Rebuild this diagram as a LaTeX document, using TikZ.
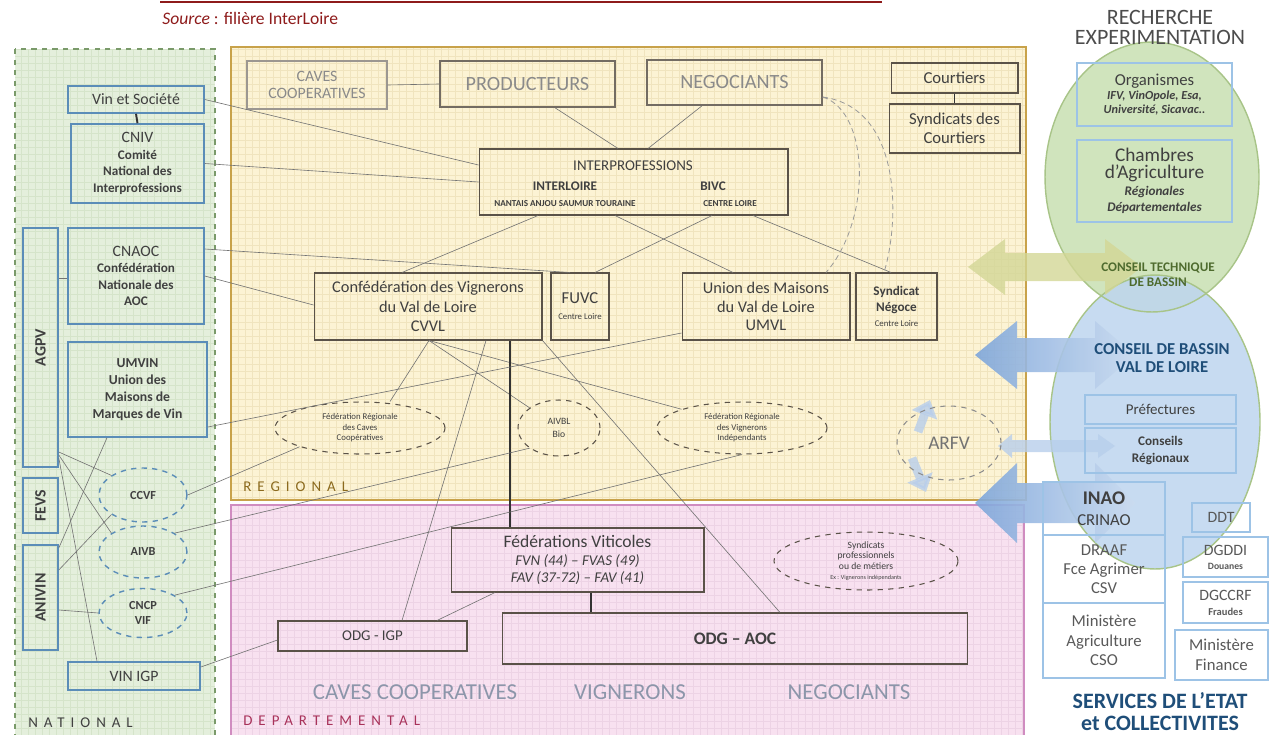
\documentclass[tikz,border=0pt]{standalone}
\usepackage{fontspec}
\setmainfont{Carlito}
\usetikzlibrary{shapes.geometric,arrows.meta}
\definecolor{natFill}{HTML}{E4EFDC}
\definecolor{natGrid}{HTML}{D5E4CA}
\definecolor{natEdge}{HTML}{7A9A6A}
\definecolor{natLine}{HTML}{5B8DB8}
\definecolor{regFill}{HTML}{FCF3D4}
\definecolor{regGrid}{HTML}{F0E4BE}
\definecolor{regLine}{HTML}{C8A24A}
\definecolor{depFill}{HTML}{F8E1F0}
\definecolor{depGrid}{HTML}{EDD3E5}
\definecolor{depLine}{HTML}{D08CC0}
\definecolor{boxDark}{HTML}{5A5248}
\definecolor{txtDark}{HTML}{404040}
\definecolor{txtGrey}{HTML}{8A8A8A}
\definecolor{depTxt}{HTML}{8C96AA}
\definecolor{greenEll}{HTML}{C8DFB2}
\definecolor{blueEll}{HTML}{BDD5EE}
\definecolor{ellLine}{HTML}{A8C488}
\definecolor{arrowBlue}{HTML}{7EA6DA}
\definecolor{arrowOlive}{HTML}{D3D796}
\definecolor{navy}{HTML}{1F4E79}
\definecolor{srcRed}{HTML}{8E1B1B}
\definecolor{paleBlue}{HTML}{9DC3E6}
\definecolor{regLabel}{HTML}{8B6A1E}
\definecolor{depLabel}{HTML}{A8325A}
\definecolor{ctbGreen}{HTML}{4E6B2E}

\newcommand{\fsz}[2]{\fontsize{#1}{#2}\selectfont}
\newcommand{\twinarrow}[7]{(#4,#1) -- (#5,#1-#2) -- (#5,#1-#3) -- (#6,#1-#3) -- (#6,#1-#2) -- (#7,#1) -- (#6,#1+#2) -- (#6,#1+#3) -- (#5,#1+#3) -- (#5,#1+#2) -- cycle}

\begin{document}
\begin{tikzpicture}[x=0.02cm, y=-0.02cm,
  every node/.style={inner sep=0pt, text=txtDark},
  box/.style={draw=boxDark, line width=0.6pt, align=center},
  topbox/.style={draw=boxDark!60, line width=0.7pt, text=txtGrey, align=center},
  natbox/.style={draw=natLine, line width=0.9pt, align=center},
  rbox/.style={draw=paleBlue, line width=0.8pt, align=center},
  regell/.style={ellipse, draw=boxDark, dashed, line width=0.6pt, align=center},
  natell/.style={ellipse, draw=natLine, dashed, line width=0.8pt, align=center, font=\bfseries\fsz{7}{8.5}},
  link/.style={draw=black!55, line width=0.35pt},
  bond/.style={draw=black!80, line width=1.1pt},
  bowlink/.style={draw=black!40, densely dashed, line width=0.45pt},
  natgrid/.style={draw=natGrid, line width=0.15pt, step=0.14cm},
  reggrid/.style={draw=regGrid, line width=0.15pt, step=0.14cm},
  depgrid/.style={draw=depGrid, line width=0.15pt, step=0.14cm},
  panellabel/.style={anchor=west, font=\fsz{8.5}{10}\addfontfeature{LetterSpace=40}},
  bigarrow/.style={left color=arrowBlue, right color=arrowBlue!40, opacity=0.9},
  arfvarrow/.style={draw=arrowBlue!55, line width=5pt, -{Triangle[length=9pt,width=15pt]}, opacity=0.8}
]
\useasboundingbox (0,0) rectangle (1270,734);

% title rule and source
\draw[srcRed, line width=1.5pt] (160,2) -- (882,2);
\node[anchor=west, text=srcRed, font=\fsz{10}{12}] (src) at (162,18) {\textit{Source} : filière InterLoire};

% panels
\fill[natFill] (15,49) rectangle (215,740);
\draw[natgrid] (15,740) grid (215,49);
\draw[natEdge, dashed, line width=0.8pt] (15,49) rectangle (215,740);
\fill[regFill] (231,47) rectangle (1026,500);
\draw[reggrid] (231,500) grid (1026,47);
\draw[regLine, line width=1pt] (231,47) rectangle (1026,500);
\fill[depFill] (231,505) rectangle (1024,740);
\draw[depgrid] (231,740) grid (1024,505);
\draw[depLine, line width=1pt] (231,505) rectangle (1024,740);

\node[panellabel, text=regLabel] (regLbl) at (243,487) {REGIONAL};
\node[panellabel, text=depLabel] (depLbl) at (243,721) {DEPARTEMENTAL};
\node[panellabel, text=black!75] (natLbl) at (28,723) {NATIONAL};

% research and basin ellipses
\fill[greenEll, opacity=0.85] (1152,177) ellipse [x radius=2.14cm, y radius=2.7cm];
\fill[blueEll, opacity=0.85] (1155,422) ellipse [x radius=2.1cm, y radius=2.94cm];
\draw[ellLine, line width=0.8pt] (1152,177) ellipse [x radius=2.14cm, y radius=2.7cm];
\draw[ellLine, line width=0.8pt] (1155,422) ellipse [x radius=2.1cm, y radius=2.94cm];

% double arrows
\fill[arrowOlive, opacity=0.8] \twinarrow{267}{28}{14}{968}{1005}{1105}{1142};
\shade[bigarrow] \twinarrow{355}{34}{17}{975}{1017}{1095}{1135};
\fill[arrowBlue!55, opacity=0.8] \twinarrow{446}{12}{6}{998}{1012}{1098}{1115};
\shade[bigarrow] \twinarrow{503}{40}{20}{975}{1017}{1095}{1135};
\draw[arfvarrow] (918,432) -- (930,400);
\draw[arfvarrow] (912,458) -- (926,492);

% regional
\node[topbox, minimum width=2.8cm, minimum height=0.96cm, font=\fsz{9}{9.6}] (caves) at (317,85) {CAVES\\COOPERATIVES};
\node[topbox, draw=boxDark!85, line width=0.9pt, minimum width=3.5cm, minimum height=0.92cm, font=\fsz{11.5}{13}] (prod) at (527.5,84) {PRODUCTEURS};
\node[topbox, draw=boxDark!85, line width=0.9pt, minimum width=3.5cm, minimum height=0.9cm, font=\fsz{11.5}{13}] (nego) at (734.5,82.5) {NEGOCIANTS};
\node[box, minimum width=2.54cm, minimum height=0.6cm, font=\fsz{9.5}{11}] (court) at (954.5,78) {Courtiers};
\node[box, minimum width=2.62cm, minimum height=0.98cm, font=\fsz{9.5}{10.8}] (syncourt) at (954.5,128.5) {Syndicats des\\Courtiers};
\node[box, minimum width=6.18cm, minimum height=1.32cm] (interp) at (633.5,182) {};
\node[font=\fsz{8.5}{10}] (interT) at (633,166) {INTERPROFESSIONS};
\node[font=\bfseries\fsz{7.5}{9}] (interL) at (565,186) {INTERLOIRE};
\node[font=\bfseries\fsz{7.5}{9}] (bivc) at (713,186) {BIVC};
\node[font=\bfseries\fsz{5.2}{6}] (nantais) at (565,204) {NANTAIS ANJOU SAUMUR TOURAINE};
\node[font=\bfseries\fsz{5.2}{6}] (centreL) at (730,204) {CENTRE LOIRE};
\node[box, minimum width=4.56cm, minimum height=1.34cm, font=\fsz{9.3}{11}] (cvvl) at (428,306.5) {Confédération des Vignerons\\du Val de Loire\\CVVL};
\node[box, minimum width=1.16cm, minimum height=1.34cm, font=\fsz{5}{9}] (fuvc) at (580,306.5) {{\fsz{9.5}{11}FUVC}\\Centre Loire};
\node[box, minimum width=3.36cm, minimum height=1.34cm, font=\fsz{9.3}{10.5}] (umvl) at (766,306.5) {Union des Maisons\\du Val de Loire\\UMVL};
\node[box, minimum width=1.62cm, minimum height=1.34cm, font=\fsz{5}{9}] (synego) at (896.5,306.5) {{\bfseries\fsz{7.5}{9}Syndicat}\\{\bfseries\fsz{7.5}{9}Négoce}\\Centre Loire};
\node[regell, minimum width=3.4cm, minimum height=1.04cm, font=\fsz{5}{6}] (frcc) at (360,428) {Fédération Régionale\\des Caves\\Coopératives};
\node[regell, minimum width=1.64cm, minimum height=1.12cm, font=\fsz{5.5}{7}] (aivbl) at (559,428) {AIVBL\\Bio};
\node[regell, minimum width=3.4cm, minimum height=1.04cm, font=\fsz{5}{6}] (frvi) at (742,428) {Fédération Régionale\\des Vignerons\\Indépendants};
\node[ellipse, draw=black!45, dashed, line width=0.6pt, minimum width=2.08cm, minimum height=1.48cm, text=black!55, font=\fsz{11}{13}] (arfv) at (949,443) {ARFV};

% departemental
\node[box, minimum width=5.06cm, minimum height=1.28cm, font=\itshape\fsz{8.5}{9.8}] (fedvit) at (577.5,560) {{\upshape\fsz{10}{11}Fédérations Viticoles}\\FVN (44) -- FVAS (49)\\FAV (37-72) -- FAV (41)};
\node[box, minimum width=3.78cm, minimum height=0.6cm, font=\fsz{8.5}{10}] (odgigp) at (372.5,636) {ODG - IGP};
\node[box, minimum width=9.32cm, minimum height=1.02cm, font=\bfseries\fsz{10}{12}] (odgaoc) at (735,638.5) {ODG -- AOC};
\node[regell, minimum width=3.68cm, minimum height=1.16cm, font=\fsz{5.5}{5.9}] (synpro) at (866,561) {Syndicats\\professionnels\\ou de métiers\\{\fsz{3.5}{4}Ex : Vignerons indépendants}};
\node[text=depTxt, font=\fsz{13}{15}] (cavesB) at (415,692) {CAVES COOPERATIVES};
\node[text=depTxt, font=\fsz{13}{15}] (vign) at (630,692) {VIGNERONS};
\node[text=depTxt, font=\fsz{13}{15}] (negoB) at (849,692) {NEGOCIANTS};

% national
\node[natbox, minimum width=2.72cm, minimum height=0.54cm, font=\fsz{9}{11}] (vinsoc) at (136,99.5) {Vin et Société};
\node[natbox, minimum width=2.66cm, minimum height=1.58cm, font=\bfseries\fsz{7.5}{9.4}] (cniv) at (137.5,163.5) {{\mdseries\fsz{9}{10}CNIV}\\Comité\\National des\\Interprofessions};
\node[natbox, minimum width=2.72cm, minimum height=1.92cm, font=\bfseries\fsz{7.5}{9.4}] (cnaoc) at (136,276) {{\mdseries\fsz{9}{10}CNAOC}\\Confédération\\Nationale des\\AOC};
\node[natbox, minimum width=0.7cm, minimum height=4.78cm] (agpv) at (40.5,347.5) {};
\node[natbox, minimum width=2.78cm, minimum height=1.9cm, font=\bfseries\fsz{7.8}{9.6}] (umvin) at (137.5,389.5) {UMVIN\\Union des\\Maisons de\\Marques de Vin};
\node[natbox, minimum width=0.7cm, minimum height=1.1cm] (fevs) at (40.5,505.5) {};
\node[natbox, minimum width=0.7cm, minimum height=2.1cm] (anivin) at (40.5,597.5) {};
\node[rotate=90, font=\bfseries\fsz{9}{10}] (agpvT) at (agpv.center) {AGPV};
\node[rotate=90, font=\bfseries\fsz{9}{10}] (fevsT) at (fevs.center) {FEVS};
\node[rotate=90, font=\bfseries\fsz{9}{10}] (anivinT) at (anivin.center) {ANIVIN};
\node[natell, minimum width=1.76cm, minimum height=1.08cm] (ccvf) at (143,495) {CCVF};
\node[natell, minimum width=1.76cm, minimum height=1.04cm] (aivb) at (143,552) {AIVB};
\node[natell, minimum width=1.76cm, minimum height=0.98cm] (cncp) at (143,613) {CNCP\\VIF};
\node[natbox, minimum width=2.64cm, minimum height=0.56cm, font=\fsz{9}{11}] (vinigp) at (134,676) {VIN IGP};

% recherche, bassin, etat
\node[align=center, text=black!70, font=\fsz{12.5}{11.4}] (rech) at (1160,27) {RECHERCHE\\EXPERIMENTATION};
\node[rbox, minimum width=3.1cm, minimum height=1.26cm, font=\bfseries\itshape\fsz{7}{8}] (org) at (1154.5,94.5) {{\upshape\mdseries\fsz{9.5}{10.5}Organismes}\\IFV, VinOpole, Esa,\\Université, Sicavac..};
\node[rbox, minimum width=3.1cm, minimum height=1.64cm, font=\bfseries\itshape\fsz{7.5}{9.6}] (chamb) at (1154.5,181) {{\upshape\mdseries\fsz{11}{11.3}Chambres}\\{\upshape\mdseries\fsz{11}{11.3}d’Agriculture}\\Régionales\\Départementales};
\node[align=center, text=ctbGreen, font=\bfseries\fsz{7.5}{8.5}] (ctb) at (1158,275) {CONSEIL TECHNIQUE\\DE BASSIN};
\node[align=center, text=navy, font=\bfseries\fsz{9.5}{10.2}] (cdb) at (1162,358) {CONSEIL DE BASSIN\\VAL DE LOIRE};
\node[rbox, minimum width=3.02cm, minimum height=0.58cm, font=\fsz{8.5}{10}] (pref) at (1160.5,409.5) {Préfectures};
\node[rbox, minimum width=3.02cm, minimum height=0.9cm, font=\bfseries\fsz{7.5}{9.5}] (conreg) at (1160.5,450.5) {Conseils\\Régionaux};
\node[rbox, minimum width=2.44cm, minimum height=1.06cm, font=\fsz{9.5}{12}] (inao) at (1104,508.5) {{\bfseries\fsz{11}{12}INAO}\\CRINAO};
\node[rbox, minimum width=2.44cm, minimum height=1.36cm, text=black!65, font=\fsz{9.5}{10.8}] (draaf) at (1104,569) {DRAAF\\Fce Agrimer\\CSV};
\node[rbox, minimum width=2.44cm, minimum height=1.5cm, text=black!65, font=\fsz{9.5}{11}] (minag) at (1104,640.5) {Ministère\\Agriculture\\CSO};
\node[rbox, minimum width=1.16cm, minimum height=0.58cm, text=black!65, font=\fsz{9}{10}] (ddt) at (1221,517.5) {DDT};
\node[rbox, minimum width=1.7cm, minimum height=0.8cm, text=black!65, font=\bfseries\fsz{5.5}{8}] (dgddi) at (1225.5,557) {{\mdseries\fsz{9}{10}DGDDI}\\Douanes};
\node[rbox, minimum width=1.7cm, minimum height=0.82cm, text=black!65, font=\bfseries\fsz{6}{8.5}] (dgccrf) at (1225.5,602.5) {{\mdseries\fsz{9}{10}DGCCRF}\\Fraudes};
\node[rbox, minimum width=1.86cm, minimum height=1cm, text=black!65, font=\fsz{9.5}{11.3}] (minfi) at (1221.5,655) {Ministère\\Finance};
\node[align=center, text=navy, font=\bfseries\fsz{12.5}{12.5}] (serv) at (1160,712) {SERVICES DE L’ETAT\\et COLLECTIVITES};

% links inside regional
\draw[link] (caves.east) -- (prod.west);
\draw[link] (prod.south -| 555,0) -- (interp.north -| 618,0);
\draw[link] (nego.south -| 702,0) -- (interp.north -| 648,0);
\draw[bond] (court.south) -- (syncourt.north);
\draw[link] (interp.south -| 538,0) -- (cvvl.north -| 402,0);
\draw[link] (interp.south -| 712,0) -- (fuvc.north -| 595,0);
\draw[link] (interp.south -| 615,0) -- (umvl.north -| 733,0);
\draw[link] (interp.south -| 753,0) -- (synego.north -| 891,0);
\draw[bowlink] (nego.east |- 0,97) .. controls (870,112) and (872,220) .. (umvl.north -| 826,0);
\draw[bowlink] (nego.east |- 0,97) .. controls (902,108) and (900,220) .. (synego.north -| 884,0);
\draw[link] (cvvl.south -| 429,0) -- (frcc.north -| 390,0);
\draw[link] (cvvl.south -| 429,0) -- (aivbl.north west);
\draw[link] (cvvl.south -| 429,0) -- (frvi.north west);
\draw[link] (cvvl.south -| 486,0) -- (odgigp.north -| 402,0);
\draw[bond, line width=0.8pt] (cvvl.south -| 510,0) -- (fedvit.north -| 510,0);
\draw[link] (cvvl.south east) -- (odgaoc.north -| 780,0);
\draw[link] (fedvit.south -| 495,0) -- (odgigp.north -| 437,0);
\draw[bond] (fedvit.south -| 591,0) -- (odgaoc.north -| 591,0);

% links from national
\draw[link] (vinsoc.east) -- (interp.west |- 0,165);
\draw[link] (cniv.east) -- (interp.west |- 0,182);
\draw[link] (cnaoc.east |- 0,249) -- (fuvc.north -| 570,0);
\draw[link] (cnaoc.east |- 0,276) -- (cvvl.west |- 0,305);
\draw[link] (umvin.east |- 0,427) -- (umvl.west |- 0,333);
\draw[link] (ccvf.east) -- (frcc.south west);
\draw[link] (aivb.north east) -- (aivbl.south west);
\draw[link] (cncp.north east) -- (frvi.south);
\draw[link] (vinigp.east |- 0,667) -- (odgigp.west |- 0,640);

% links inside national
\draw[bond] (vinsoc.south) -- (cniv.north);
\draw[link] (agpv.east |- 0,278) -- (cnaoc.west |- 0,278);
\draw[link] (agpv.east |- 0,452) -- (ccvf.north west);
\draw[link] (agpv.east |- 0,455) -- (aivb.north west);
\draw[link] (agpv.east |- 0,458) -- (vinigp.north -| 97,0);
\draw[link] (anivin.east |- 0,548) -- (umvin.south -| 107,0);
\draw[link] (anivin.east |- 0,570) -- (ccvf.south west);
\draw[link] (anivin.east |- 0,610) -- (cncp.west);
\end{tikzpicture}
\end{document}
